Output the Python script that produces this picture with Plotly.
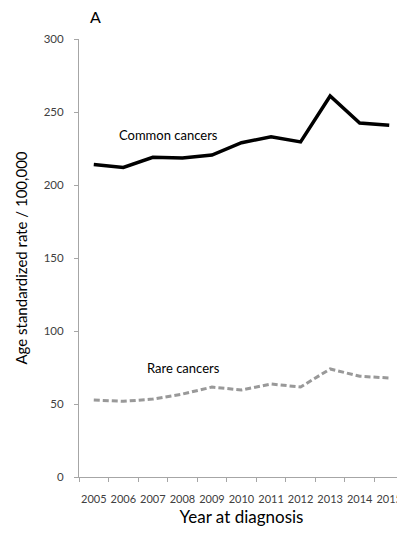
import plotly.graph_objects as go

years = [str(y) for y in range(2005, 2016)]
common = [214, 212, 219, 218.5, 220.5, 229, 233, 229.5, 261, 242.5, 241]
rare = [52.7, 51.8, 53.4, 56.8, 61.6, 59.6, 63.7, 61.6, 74, 69, 67.8]

font = "Lato, 'Open Sans', sans-serif"

fig = go.Figure()
fig.add_trace(go.Scatter(x=years, y=common, mode="lines",
                         line=dict(color="black", width=3.5), showlegend=False))
fig.add_trace(go.Scatter(x=years, y=rare, mode="lines",
                         line=dict(color="#999999", width=3, dash="6px,3px"), showlegend=False))

# page body has an 8px margin, so the figure is 8px smaller and shifted
W, H = 397, 525
L, R, T, B = 71, 1, 31, 56
pw, ph = W - L - R, H - T - B

fig.update_layout(
    width=W, height=H,
    margin=dict(l=L, r=R, t=T, b=B),
    plot_bgcolor="white", paper_bgcolor="white",
    font=dict(family=font, color="#595959", size=12),
    xaxis=dict(type="category", range=[-0.5, len(years) - 0.5],
               tickson="boundaries", ticks="outside", ticklen=4,
               tickcolor="#a6a6a6", showline=True, linecolor="#a6a6a6", linewidth=1,
               showgrid=False, tickangle=0, automargin=False, ticklabelstandoff=12,
               tickfont=dict(size=11, color="#404040"),
               title=dict(text="Year at diagnosis", font=dict(size=17, color="black"), standoff=6)),
    yaxis=dict(range=[0, 300], tickvals=[0, 50, 100, 150, 200, 250, 300], ticks="outside",
               ticklen=4, tickcolor="#a6a6a6", showline=True, linecolor="#a6a6a6",
               linewidth=1, showgrid=False, zeroline=False, automargin=False,
               ticklabelstandoff=8,
               tickfont=dict(size=11.5, color="#404040"),
               title=dict(text="Age standardized rate / 100,000",
                          font=dict(size=15, color="black"), standoff=12)),
    annotations=[
        dict(x=2.53, y=234, xref="x", yref="y", text="Common cancers", showarrow=False,
             font=dict(size=13, color="black")),
        dict(x=3.05, y=74.6, xref="x", yref="y", text="Rare cancers", showarrow=False,
             font=dict(size=13, color="black")),
        dict(x=(87 - L) / pw, y=1 + (T + 3) / ph, xref="paper", yref="paper", text="A",
             showarrow=False, xanchor="center", yanchor="top",
             font=dict(size=16, color="black")),
    ],
)

fig.write_html("out.html")
